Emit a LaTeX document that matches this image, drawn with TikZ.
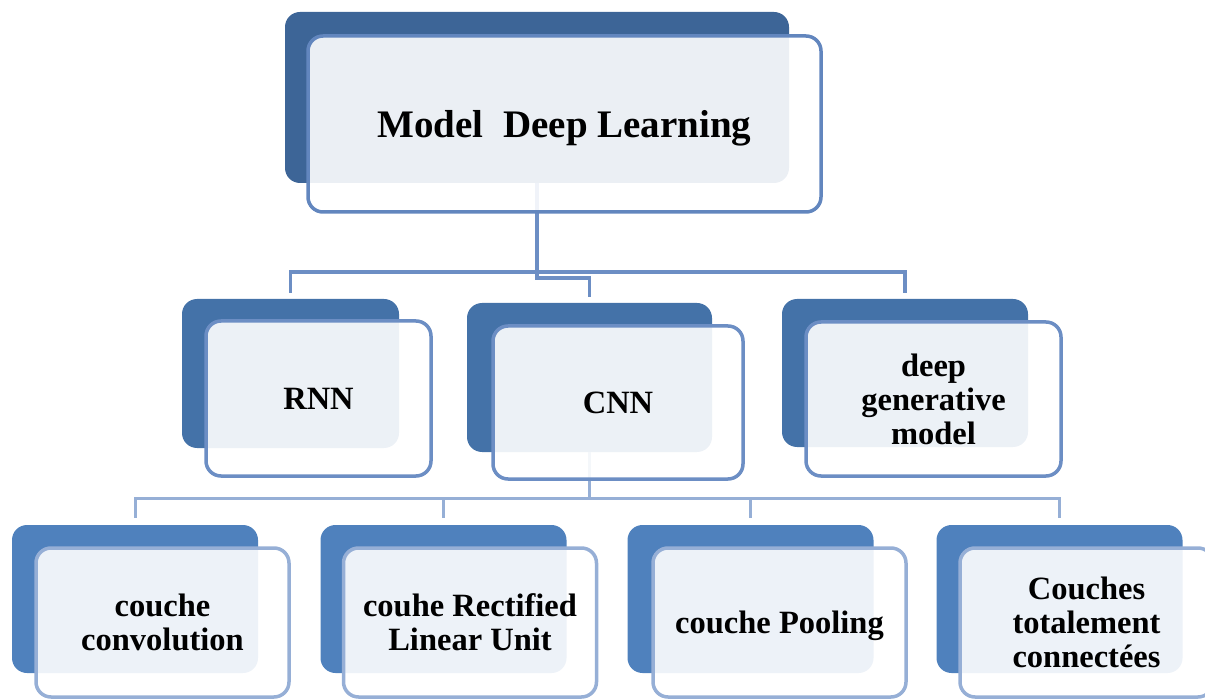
\documentclass[tikz,border=0pt]{standalone}
\usepackage{fontspec}
\setmainfont{Liberation Serif}
\usepackage{tikz}
\usetikzlibrary{calc}
\usetikzlibrary{positioning}

\definecolor{darkone}{RGB}{61,101,151}
\definecolor{darktwo}{RGB}{68,114,168}
\definecolor{darkthree}{RGB}{79,129,189}
\definecolor{edgeone}{RGB}{98,134,190}
\definecolor{edgetwo}{RGB}{108,142,196}
\definecolor{edgethree}{RGB}{150,175,214}

\begin{document}
\begin{tikzpicture}[x=1pt,y=-1pt,
  back/.style={rectangle,rounded corners=15pt,inner sep=0pt},
  front/.style={rectangle,rounded corners=15pt,line width=3.5pt,fill=white,fill opacity=0.9,text opacity=1,
    align=center,inner sep=0pt,text depth=0pt,font=\bfseries\fontsize{32.5}{34}\selectfont},
  link/.style={line width=3.5pt,edgetwo},
  linkb/.style={line width=3pt,edgethree}]
  \useasboundingbox (0,0) rectangle (1205,700);
  \clip (0,0) rectangle (1205,700);

  \node[back,fill=darkone,minimum width=504pt,minimum height=171pt] (dlb) at (537,97.5){};

  \node[back,fill=darktwo,minimum width=217pt,minimum height=149pt] (rnnb) at (290.5,373.5){};
  \node[back,fill=darktwo,minimum width=245pt,minimum height=149pt] (cnnb) at (589.5,377.5){};
  \node[back,fill=darktwo,minimum width=246pt,minimum height=148pt] (genb) at (905,373){};

  \node[back,fill=darkthree,minimum width=246pt,minimum height=148pt] (convb) at (135,599){};
  \node[back,fill=darkthree,minimum width=246pt,minimum height=148pt] (relub) at (443.5,599){};
  \node[back,fill=darkthree,minimum width=246pt,minimum height=148pt] (poolb) at (750.5,599){};
  \node[back,fill=darkthree,minimum width=246pt,minimum height=148pt] (fcb) at (1059.5,599){};

  \coordinate (jog) at (0,278);
  \coordinate (bus) at (0,272);
  \coordinate (busb) at (0,498);

  \draw[link,shorten >=6pt] (dlb.south) -- (dlb.south |- jog) -| (cnnb.north);
  \draw[link,shorten <=6pt,shorten >=6pt] (rnnb.north) -- (rnnb.north |- bus) -- (genb.north |- bus) -- (genb.north);

  \draw[linkb] (cnnb.south) -- (cnnb.south |- busb);
  \draw[linkb,shorten <=7pt,shorten >=7pt] (convb.north) -- (convb.north |- busb) -- (fcb.north |- busb) -- (fcb.north);
  \draw[linkb,shorten <=7pt] (relub.north) -- (relub.north |- busb);
  \draw[linkb,shorten <=7pt] (poolb.north) -- (poolb.north |- busb);

  \node[front,draw=edgeone,minimum width=513pt,minimum height=176pt,font=\bfseries\fontsize{39}{42}\selectfont] (dl) at (564.5,124){Model\ \ Deep Learning};

  \node[front,draw=edgetwo,minimum width=225pt,minimum height=155pt] (rnn) at (318.5,398.5){RNN};
  \node[front,draw=edgetwo,minimum width=250pt,minimum height=153pt] (cnn) at (618,402.5){CNN};
  \node[front,draw=edgetwo,minimum width=255pt,minimum height=154pt] (gen) at (933.5,399){deep\\generative\\model};

  \node[front,draw=edgethree,minimum width=253pt,minimum height=149pt] (conv) at (162.5,622.5){couche\\convolution};
  \node[front,draw=edgethree,minimum width=253pt,minimum height=149pt] (relu) at (470,622.5){couhe Rectified\\Linear Unit};
  \node[front,draw=edgethree,minimum width=253pt,minimum height=149pt] (pool) at (779.5,622.5){couche Pooling};
  \node[front,draw=edgethree,minimum width=253pt,minimum height=149pt] (fc) at (1086.5,622.5){Couches\\totalement\\connectées};
\end{tikzpicture}
\end{document}
